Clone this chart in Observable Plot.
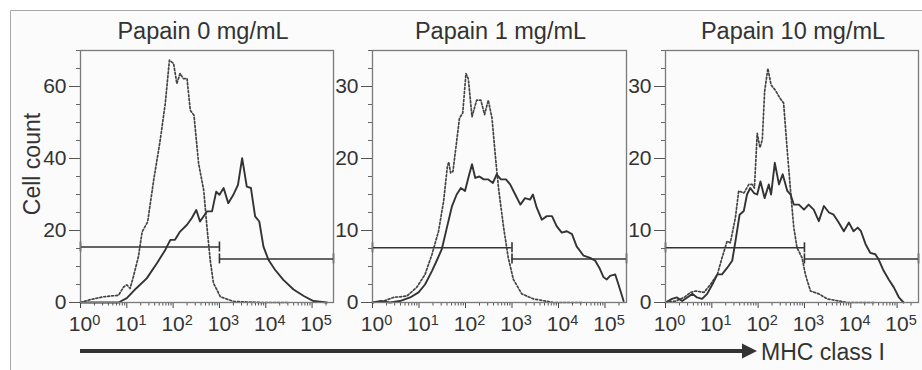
<!DOCTYPE html>
<html><head><meta charset="utf-8">
<script src="https://cdn.jsdelivr.net/npm/d3@7"></script>
<script src="https://cdn.jsdelivr.net/npm/@observablehq/plot@0.6"></script>
<style>
html,body{margin:0;padding:0;background:#fff;}
#chart{position:relative;width:922px;height:370px;overflow:hidden;font-family:"Liberation Sans",Arial,sans-serif;}
#chart svg{position:absolute;}
</style></head><body><div id="chart"></div>
<script>
// ---- text / ticks ----
const panelTitles = ["Papain 0 mg/mL", "Papain 1 mg/mL", "Papain 10 mg/mL"];
const yAxisLabel = "Cell count";
const xAxisLabel = "MHC class I";
const xMajorTicks = [1, 10, 100, 1000, 10000, 100000];
const xMax = 2.9e5;
const yMax0 = 70, yMax12 = 35;
const yMajor0 = [0, 20, 40, 60];
const yMajor12 = [0, 10, 20, 30];
const gateThreshold = 1000;
const gateLevels0 = [15.4, 12.1];
const gateLevels12 = [7.6, 6.05];

// ---- series: [log10 MHC class I intensity, cell count] ----
const dotted0 = [[0,0],[0.21,0.8],[0.5,1.6],[0.82,2],[0.93,4.3],[1.0,4.9],[1.07,3.9],[1.14,7.1],[1.25,12.7],[1.33,19.6],[1.45,22.4],[1.58,34],[1.72,45],[1.83,55.3],[1.92,67.3],[2.01,66.4],[2.08,60.8],[2.15,63.6],[2.22,62.2],[2.3,62.2],[2.37,53.4],[2.45,52],[2.55,38.6],[2.66,31.2],[2.73,21],[2.8,11.8],[2.87,5.4],[3.02,1.6],[3.3,0.3],[3.88,0],[4.5,0]];
const solid0 = [[0,0],[0.82,0],[1.0,1.2],[1.2,3.9],[1.43,6.7],[1.65,10.9],[1.83,14.6],[1.94,17.4],[2.04,17.4],[2.15,19.7],[2.3,21.6],[2.4,23.4],[2.5,25.7],[2.58,22.5],[2.73,25.3],[2.84,25.3],[2.93,30.8],[3.0,29.9],[3.09,31.8],[3.19,27.6],[3.3,29.9],[3.4,32.7],[3.49,40.1],[3.59,32.2],[3.68,31.8],[3.77,23.9],[3.86,22.5],[3.95,15.5],[4.06,11.8],[4.2,9.1],[4.38,6.3],[4.6,3.6],[4.82,1.8],[5.03,0.4],[5.32,0]];
const dotted1 = [[0,0],[0.24,0.2],[0.45,0.7],[0.74,0.9],[0.95,2.1],[1.13,3.9],[1.28,6.7],[1.42,9.9],[1.53,14.1],[1.61,18.9],[1.64,19.5],[1.68,18],[1.73,18.2],[1.81,22.4],[1.87,25.6],[1.94,26.3],[2.01,31.8],[2.06,31.1],[2.14,25.8],[2.24,28.1],[2.33,28.1],[2.41,26.1],[2.49,28.1],[2.57,25.6],[2.64,20.5],[2.71,15.9],[2.82,10.4],[2.92,6.2],[3.03,3.2],[3.21,1.2],[3.46,0.5],[3.89,0],[4.5,0]];
const solid1 = [[0,0],[0.16,0.2],[0.38,0],[0.59,0.2],[0.81,0.7],[0.99,1.4],[1.13,2.5],[1.28,4.4],[1.38,5.8],[1.49,7.4],[1.6,10.4],[1.71,13.4],[1.81,15],[1.9,15.9],[1.99,15.5],[2.06,17.3],[2.14,19.2],[2.21,17.3],[2.3,17.5],[2.39,17.1],[2.49,17.1],[2.59,16.6],[2.67,17.8],[2.76,17.1],[2.87,17.1],[2.96,16.4],[3.07,15],[3.18,13.6],[3.28,14.5],[3.39,14.3],[3.45,15],[3.53,13.2],[3.64,11.5],[3.75,12],[3.86,12],[3.96,10.6],[4.07,9.7],[4.18,9.9],[4.29,9.5],[4.39,7.8],[4.54,6.5],[4.68,6.2],[4.79,5.8],[4.88,4.8],[4.97,3.5],[5.04,3.2],[5.11,3.7],[5.22,3.9],[5.29,2.5],[5.4,0.2]];
const dotted2 = [[0,0],[0.22,0.2],[0.4,0.7],[0.54,1.4],[0.65,1.6],[0.83,1.4],[0.97,2.5],[1.12,3.9],[1.22,6.2],[1.33,8.5],[1.4,8.3],[1.51,11.8],[1.58,15.5],[1.69,15.2],[1.8,16.4],[1.87,16.4],[1.92,15.9],[1.98,23.5],[2.04,21.5],[2.09,22.6],[2.14,29.3],[2.21,32.5],[2.28,30.2],[2.37,29.5],[2.47,28.4],[2.55,27.7],[2.63,21],[2.7,15.5],[2.77,10.4],[2.84,7.6],[2.95,6.2],[3.02,3.9],[3.13,1.6],[3.31,1.2],[3.49,0.5],[3.92,0],[4.5,0]];
const solid2 = [[0,0],[0.14,0.5],[0.25,0.7],[0.36,0.2],[0.47,0.7],[0.58,1.2],[0.68,0.7],[0.79,0.5],[0.9,1.2],[1.01,2.5],[1.12,3.9],[1.22,3.9],[1.33,4.8],[1.44,5.8],[1.51,8.5],[1.6,12.2],[1.69,12.7],[1.76,15],[1.83,15.9],[1.91,15.2],[1.98,15],[2.05,16.8],[2.14,14.5],[2.23,16.4],[2.28,15],[2.36,19.4],[2.45,16.4],[2.53,17.8],[2.63,15.5],[2.7,15],[2.77,13.6],[2.88,13.6],[2.99,12.9],[3.09,13.6],[3.2,12.9],[3.31,11.3],[3.42,13.4],[3.53,12.5],[3.63,12.2],[3.74,11.1],[3.85,9.9],[3.96,11.1],[4.06,9.9],[4.15,10.4],[4.22,9.9],[4.32,8.1],[4.42,6.9],[4.53,6.7],[4.6,6],[4.71,4.4],[4.82,3.2],[4.93,2.1],[5.04,0.7],[5.14,0]];

const FONT = '"Liberation Sans", Arial, sans-serif';
const chart = document.getElementById("chart");

// background + decorations
const deco = d3.select(chart).append("svg").attr("width", 922).attr("height", 370).style("left", "0px").style("top", "0px");
deco.append("rect").attr("x", 10).attr("y", 10).attr("width", 912).attr("height", 360).attr("fill", "#fbfbfb");
deco.append("path").attr("d", "M10.5,370V10.5H922").attr("fill", "none").attr("stroke", "#a8a8a8").attr("stroke-width", 1);
deco.append("text").attr("transform", "translate(40,164) rotate(-90)").attr("text-anchor", "middle")
  .attr("font-family", FONT).attr("font-size", 23).attr("fill", "#333").text(yAxisLabel);
deco.append("line").attr("x1", 80).attr("x2", 744).attr("y1", 351).attr("y2", 351).attr("stroke", "#333").attr("stroke-width", 4);
deco.append("path").attr("d", "M742,343.5L757,351L742,358.5Z").attr("fill", "#333");
deco.append("text").attr("x", 761).attr("y", 359.5).attr("font-family", FONT).attr("font-size", 23).attr("fill", "#333").text(xAxisLabel);

const xMinorTicks = d3.range(0, 6).flatMap(p => d3.range(2, 10).map(k => k * 10 ** p)).filter(v => v <= xMax);

function panel({title, solid, dotted, yMax, yMajor, gateLevels, width, marginLeft, marginRight, left, titleDx}) {
  const minorStep = yMajor[1] / 4;
  const yMinor = d3.range(0, yMax + 1e-9, minorStep);
  const gates = [{x1: 1, x2: gateThreshold, y: gateLevels[0]}, {x1: gateThreshold, x2: xMax, y: gateLevels[1]}];
  const caps = gates.flatMap(g => [{x: g.x1, y: g.y}, {x: g.x2, y: g.y}]);
  const svg = Plot.plot({
    width, height: 328, marginLeft, marginRight, marginTop: 40, marginBottom: 36,
    style: {background: "transparent", color: "#333", fontFamily: FONT, overflow: "visible"},
    x: {type: "log", domain: [1, xMax]},
    y: {domain: [0, yMax]},
    marks: [
      Plot.axisY({ticks: yMinor, tickSize: 4, tickFormat: () => "", label: null, stroke: "#666"}),
      Plot.axisY({ticks: yMajor, tickSize: 11, tickPadding: 3, fontSize: 21, label: null, stroke: "#555", fill: "#333"}),
      Plot.axisX({ticks: xMinorTicks, tickSize: 3.5, tickFormat: () => "", label: null, stroke: "#555"}),
      Plot.axisX({ticks: xMajorTicks, tickSize: 6, tickPadding: 8, fontSize: 21, label: null, stroke: "#444", fill: "#333",
        tickFormat: d => `10^${Math.round(Math.log10(d))}`}),
      Plot.line(dotted, {x: d => 10 ** d[0], y: d => d[1], stroke: "#444", strokeWidth: 1.7, strokeDasharray: "2,2"}),
      Plot.line(solid, {x: d => 10 ** d[0], y: d => d[1], stroke: "#333", strokeWidth: 1.9}),
      Plot.ruleY(gates, {x1: "x1", x2: "x2", y: "y", stroke: "#333", strokeWidth: 1.6}),
      Plot.ruleX(caps, {x: "x", y1: "y", y2: "y", insetTop: -5, insetBottom: -5, stroke: "#333", strokeWidth: 1.6}),
      Plot.frame({stroke: "#7a7a7a", strokeWidth: 1.3}),
      Plot.text([title], {frameAnchor: "top", lineAnchor: "bottom", dy: -12, dx: titleDx, fontSize: 23.5, fill: "#333"})
    ]
  });
  d3.select(svg).selectAll("text").each(function() {
    const m = /^10\^(\d)$/.exec(this.textContent);
    if (!m) return;
    this.textContent = "";
    const s = d3.select(this).attr("dx", 4);
    s.append("tspan").text("10");
    s.append("tspan").attr("dy", "-0.45em").attr("font-size", "14.5px").text(m[1]);
  });
  svg.style.position = "absolute";
  svg.style.left = left + "px";
  svg.style.top = "10px";
  svg.style.maxWidth = "none";
  chart.appendChild(svg);
}

panel({title: panelTitles[0], solid: solid0, dotted: dotted0, yMax: yMax0, yMajor: yMajor0, gateLevels: gateLevels0,
  width: 328, marginLeft: 70, marginRight: 5, left: 10, titleDx: -4});
panel({title: panelTitles[1], solid: solid1, dotted: dotted1, yMax: yMax12, yMajor: yMajor12, gateLevels: gateLevels12,
  width: 293, marginLeft: 34, marginRight: 5, left: 338, titleDx: 1});
panel({title: panelTitles[2], solid: solid2, dotted: dotted2, yMax: yMax12, yMajor: yMajor12, gateLevels: gateLevels12,
  width: 291, marginLeft: 34, marginRight: 4, left: 631, titleDx: 1});
</script></body></html>
